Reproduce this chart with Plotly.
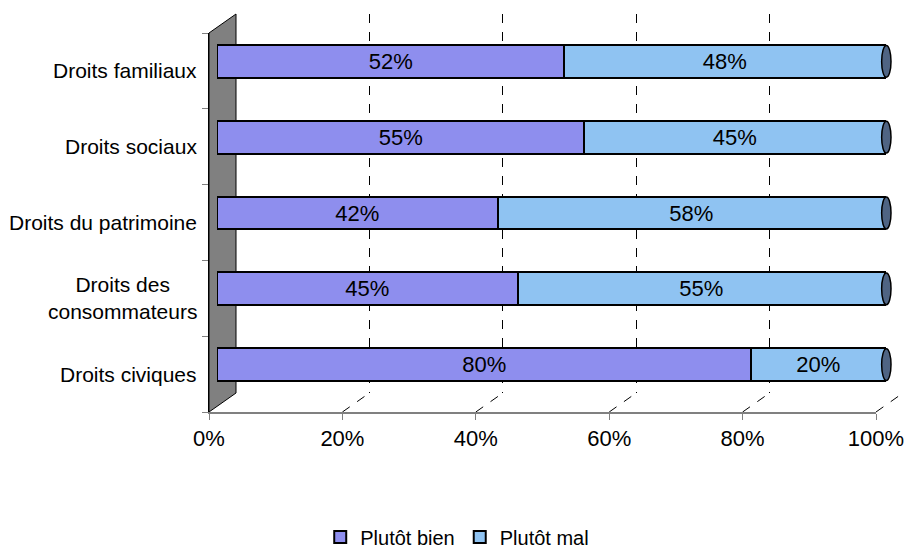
import plotly.graph_objects as go

# ---- data ----
categories = ["Droits civiques", "Droits des<br>consommateurs", "Droits du patrimoine",
              "Droits sociaux", "Droits familiaux"]
plutot_bien = [80, 45, 42, 55, 52]
plutot_mal = [20, 55, 58, 45, 48]
series_names = ["Plutôt bien", "Plutôt mal"]
x_ticks = [0, 20, 40, 60, 80, 100]

W, H = 909, 550
FONT = "Arial, Liberation Sans, sans-serif"
COL_BIEN = "#8E8EEE"
COL_MAL = "#8FC3F2"
COL_CAP = "#4F6483"


def px(x):
    return x / W


def py(y):
    return 1 - y / H


# layout geometry (pixels)
front_x0, front_x1 = 209, 876       # front axis 0%..100%
front_top, front_bot = 33, 412
dx, dy = 27, 19                      # depth offset of back plane
bar_x0, bar_x1 = 217, 885            # where 0% and 100% of the bars fall
bar_dom_x1 = 900                     # extra room for the bar end caps
bar_shift = 9.5
bar_range_max = 100 * (bar_dom_x1 - bar_x0) / (bar_x1 - bar_x0)

fig = go.Figure()

# invisible trace to hold the front category axis
fig.add_trace(go.Scatter(x=[0] * len(categories), y=categories, mode="markers",
                         marker=dict(opacity=0), showlegend=False, hoverinfo="skip",
                         xaxis="x", yaxis="y"))

# dummy trace so grid axes x2/y2 exist (drawn beneath bars)
fig.add_trace(go.Scatter(x=[None], y=[None], xaxis="x2", yaxis="y2", showlegend=False,
                         hoverinfo="skip"))

for name, vals, col in [(series_names[0], plutot_bien, COL_BIEN),
                        (series_names[1], plutot_mal, COL_MAL)]:
    fig.add_trace(go.Bar(
        name=name, y=categories, x=vals, orientation="h",
        marker=dict(color=col, line=dict(color="black", width=2)),
        text=[f"{v}%" for v in vals], textposition="inside",
        insidetextanchor="middle", textangle=0,
        textfont=dict(family=FONT, size=22, color="black"),
        xaxis="x3", yaxis="y3", hoverinfo="skip"))

shapes = []
# side wall
shapes.append(dict(type="path", xref="paper", yref="paper", layer="below",
                   path=f"M {px(front_x0)},{py(front_bot)} L {px(front_x0)},{py(front_top)} "
                        f"L {px(front_x0+dx)},{py(front_top-dy)} L {px(front_x0+dx)},{py(front_bot-dy)} Z",
                   fillcolor="#808080", line=dict(color="black", width=1)))
# diagonal dashed grid links from back plane to front axis
for t in x_ticks[1:]:
    xf = front_x0 + (front_x1 - front_x0) * t / 100
    shapes.append(dict(type="line", xref="paper", yref="paper", layer="below",
                       x0=px(xf), y0=py(front_bot), x1=px(xf + dx), y1=py(front_bot - dy),
                       line=dict(color="black", width=1, dash="dash")))
# end caps of the bars
for i, (b, m) in enumerate(zip(plutot_bien, plutot_mal)):
    tot = b + m
    shapes.append(dict(type="circle", xref="x3", yref="y3", layer="above",
                       x0=tot - 0.5, x1=tot + 0.9, y0=i - 0.21, y1=i + 0.21,
                       fillcolor=COL_CAP, line=dict(color="black", width=1.5)))

# category labels
annotations = []
for c in categories:
    annotations.append(dict(text=c, xref="paper", yref="y", x=px(199), y=c,
                            xanchor="right", yanchor="middle", align="center",
                            showarrow=False, font=dict(family=FONT, size=21, color="black")))

fig.update_layout(
    width=W, height=H,
    margin=dict(l=0, r=0, t=0, b=0, autoexpand=False),
    paper_bgcolor="white", plot_bgcolor="rgba(0,0,0,0)",
    barmode="stack", bargap=0.565,
    font=dict(family=FONT, size=21, color="black"),
    showlegend=True,
    legend=dict(orientation="h", x=0.503, xanchor="center", y=py(537), yanchor="middle",
                font=dict(family=FONT, size=20, color="black"), itemwidth=30,
                traceorder="normal", bgcolor="rgba(0,0,0,0)"),
    xaxis=dict(domain=[px(front_x0), px(front_x1)], range=[0, 100], anchor="y",
               tickvals=x_ticks, ticktext=[f"{t}%" for t in x_ticks],
               ticks="outside", ticklen=6, tickcolor="#808080",
               showline=True, linecolor="#808080", linewidth=1.5,
               showgrid=False, zeroline=False,
               tickfont=dict(family=FONT, size=22, color="black")),
    yaxis=dict(domain=[py(front_bot), py(front_top)], anchor="x", type="category",
               categoryorder="array", categoryarray=categories, range=[-0.5, 4.5],
               tickson="boundaries", ticks="outside", ticklen=6, tickcolor="#808080",
               showticklabels=False, showline=True, linecolor="black", linewidth=1,
               showgrid=False, zeroline=False),
    # back-plane gridlines
    xaxis2=dict(domain=[px(front_x0 + dx), px(front_x1 + dx)], range=[0, 100], anchor="y2",
                tickvals=x_ticks[1:], showticklabels=False, ticks="",
                showgrid=True, gridcolor="black", gridwidth=1, griddash="dash",
                showline=False, zeroline=False),
    yaxis2=dict(domain=[py(front_bot - dy), py(front_top - dy)], anchor="x2",
                visible=False, range=[0, 1]),
    # bars (mid-depth)
    xaxis3=dict(domain=[px(bar_x0), px(bar_dom_x1)], range=[0, bar_range_max], anchor="y3",
                visible=False),
    yaxis3=dict(domain=[py(front_bot - bar_shift), py(front_top - bar_shift)], anchor="x3",
                type="category", categoryorder="array",
                categoryarray=categories, range=[-0.5, 4.5], visible=False),
    shapes=shapes, annotations=annotations,
)

fig.write_html("out.html", config={"displayModeBar": False},
               post_script="document.body.style.margin='0px';document.body.style.overflow='hidden';")
